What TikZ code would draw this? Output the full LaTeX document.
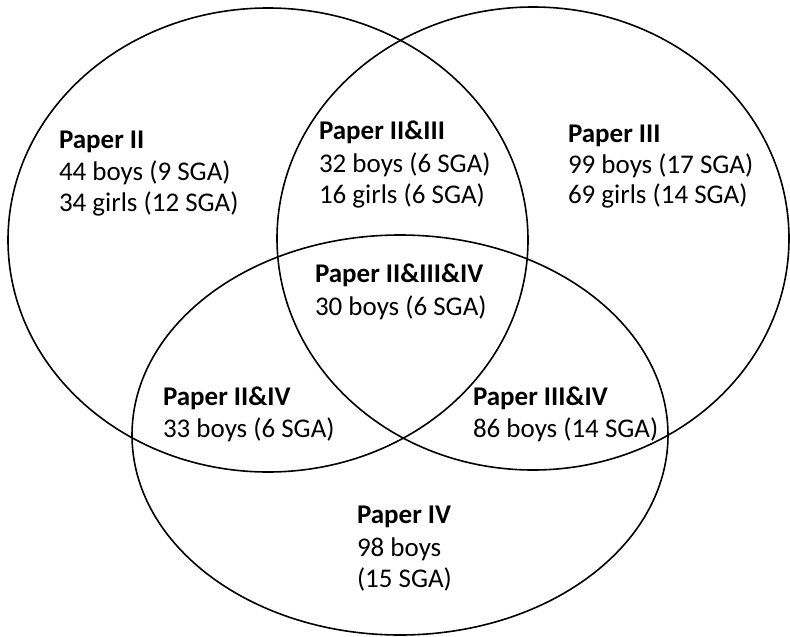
\documentclass[tikz,border=0pt]{standalone}
\usepackage{fontspec}
\setmainfont{Carlito}
\begin{document}
\begin{tikzpicture}[x=1pt,y=-1pt,
  venn/.style={draw=black,line width=1.6pt},
  lbl/.style={anchor=base west,inner sep=0pt,outer sep=0pt,font=\fontsize{27}{32}\selectfont},
  ttl/.style={lbl,font=\fontsize{27}{32}\selectfont\bfseries}]
\useasboundingbox (0,0) rectangle (790,637);
\draw[venn] (268,240) ellipse (260pt and 232pt);
\draw[venn] (533,238.5) ellipse (256pt and 231.5pt);
\draw[venn] (400,435) ellipse (268pt and 200pt);
% Paper II
\node[ttl] (p2t) at (59,148) {Paper II};
\node[lbl] (p2b) at (59,180) {44 boys (9 SGA)};
\node[lbl] (p2g) at (59,211) {34 girls (12 SGA)};
% Paper II&III
\node[ttl] (p23t) at (319,139) {Paper II\&III};
\node[lbl] (p23b) at (319,172) {32 boys (6 SGA)};
\node[lbl] (p23g) at (319,203) {16 girls (6 SGA)};
% Paper III
\node[ttl] (p3t) at (568,142) {Paper III};
\node[lbl] (p3b) at (568,173) {99 boys (17 SGA)};
\node[lbl] (p3g) at (568,203) {69 girls (14 SGA)};
% Paper II&III&IV
\node[ttl] (p234t) at (315,282) {Paper II\&III\&IV};
\node[lbl] (p234b) at (315,315) {30 boys (6 SGA)};
% Paper II&IV
\node[ttl] (p24t) at (163,405) {Paper II\&IV};
\node[lbl] (p24b) at (163,437) {33 boys (6 SGA)};
% Paper III&IV
\node[ttl] (p34t) at (473,405) {Paper III\&IV};
\node[lbl] (p34b) at (473,437) {86 boys (14 SGA)};
% Paper IV
\node[ttl] (p4t) at (357,523) {Paper IV};
\node[lbl] (p4b) at (357,556) {98 boys};
\node[lbl] (p4c) at (357,587) {(15 SGA)};
\end{tikzpicture}
\end{document}
